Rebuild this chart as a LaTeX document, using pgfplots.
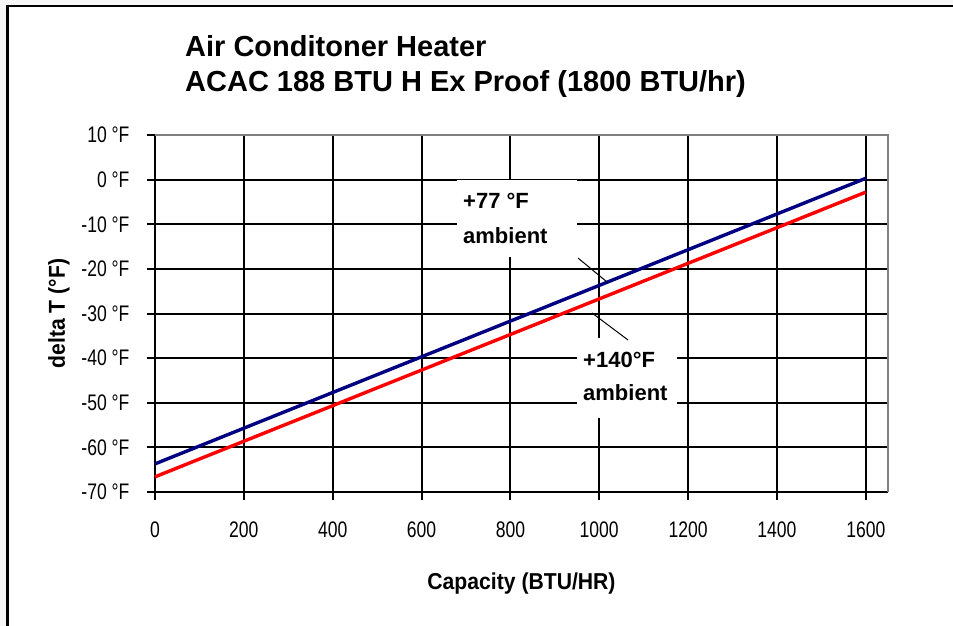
\documentclass[border=0pt]{standalone}
\usepackage{fontspec}
\setmainfont{Liberation Sans}
\newfontfamily\tickfont[FakeStretch=0.78]{Liberation Sans}
\newfontfamily\labfont[FakeStretch=0.92]{Liberation Sans}
\usepackage{pgfplots}
\pgfplotsset{compat=1.18}
\definecolor{bluel}{RGB}{0,0,128}
\definecolor{redl}{RGB}{255,0,0}
\definecolor{bggray}{RGB}{246,246,246}
\definecolor{bordergray}{RGB}{128,128,128}
\begin{document}
\begin{tikzpicture}
\path[use as bounding box] (0pt,0pt) rectangle (953pt,-626pt);
\begin{scope}[x=1pt,y=-1pt]
\clip (0,0) rectangle (953,626);
\fill[bggray] (0,0) rectangle (953,626);
\draw[line width=2.4pt, fill=white] (7.3,6) rectangle (1000,700);
\node[anchor=base west, inner sep=0pt, font=\fontsize{29}{34}\selectfont\bfseries] at (185,57) {Air Conditoner Heater};
\node[anchor=base west, inner sep=0pt, font=\fontsize{29}{34}\selectfont\bfseries] at (185,92) {ACAC 188 BTU H Ex Proof (1800 BTU/hr)};
\end{scope}
\begin{axis}[
  at={(155pt,-492pt)}, anchor=south west,
  scale only axis, width=733pt, height=357pt,
  xmin=0, xmax=1650, ymin=-70, ymax=10,
  axis lines=left,
  axis line style={-, black, line width=2.1pt},
  grid=major,
  major grid style={black, line width=2pt},
  tick style={black, line width=2pt},
  major tick length=8pt,
  tick align=outside,
  xtick={0,200,400,600,800,1000,1200,1400,1600},
  xticklabels={0,200,400,600,800,1000,1200,1400,1600},
  ytick={-70,-60,-50,-40,-30,-20,-10,0,10},
  yticklabels={-70 °F,-60 °F,-50 °F,-40 °F,-30 °F,-20 °F,-10 °F,0 °F,10 °F},
  xticklabel style={font=\tickfont\fontsize{22.5}{26}\selectfont, yshift=-18pt},
  yticklabel style={font=\tickfont\fontsize{22.5}{26}\selectfont, xshift=-14pt},
  xlabel={Capacity (BTU/HR)},
  ylabel={delta T (°F)},
  every axis x label/.style={at={(axis description cs:0.5,-0.2717)}, anchor=base, font=\labfont\fontsize{23}{27}\selectfont\bfseries},
  every axis y label/.style={at={(axis description cs:-0.1228,0.5)}, rotate=90, anchor=base, font=\labfont\fontsize{23}{27}\selectfont\bfseries},
  clip=false,
]
\addplot[bluel, line width=3.4pt] coordinates {(0,-63.7) (1600,0.3)};
\addplot[redl, line width=3.4pt] coordinates {(0,-66.6) (1600,-2.8)};
\draw[bordergray, line width=2pt] (rel axis cs:0,1) -- (rel axis cs:1,1) -- (rel axis cs:1,0);
\end{axis}
\begin{scope}[x=1pt,y=-1pt]
\fill[white] (457,180) rectangle (577,257);
\node[anchor=base west, inner sep=0pt, font=\fontsize{22}{26}\selectfont\bfseries] at (463,208) {+77 °F};
\node[anchor=base west, inner sep=0pt, font=\fontsize{22}{26}\selectfont\bfseries] at (463,243) {ambient};
\fill[white] (577,338) rectangle (677,418);
\node[anchor=base west, inner sep=0pt, font=\fontsize{22}{26}\selectfont\bfseries] at (583,367) {+140°F};
\node[anchor=base west, inner sep=0pt, font=\fontsize{22}{26}\selectfont\bfseries] at (583,400) {ambient};
\draw[line width=1pt] (578,258) -- (607,282);
\draw[line width=1pt] (592,313) -- (628,340);
\end{scope}
\end{tikzpicture}
\end{document}
